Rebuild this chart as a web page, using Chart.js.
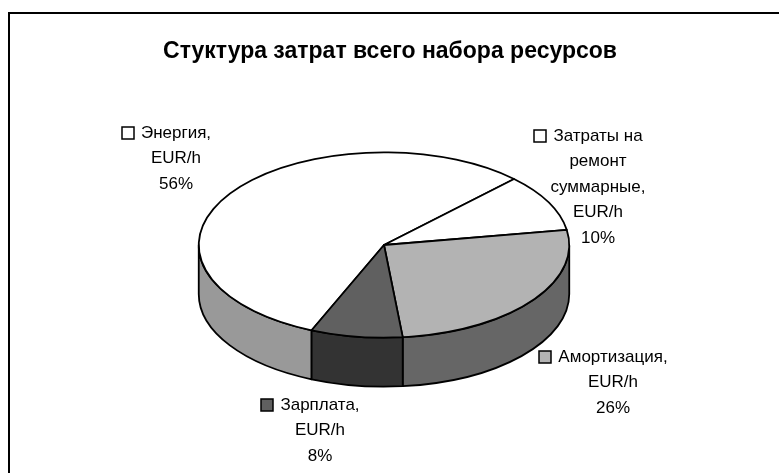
<!DOCTYPE html>
<html lang="ru">
<head>
<meta charset="utf-8">
<title>Стуктура затрат всего набора ресурсов</title>
<script src="https://cdn.jsdelivr.net/npm/chart.js@4.4.1/dist/chart.umd.min.js"></script>
<style>
  html, body { margin: 0; padding: 0; background: #fff; }
  canvas { display: block; }
</style>
</head>
<body>
<canvas id="costChart" width="779" height="473"></canvas>
<script>
const chartTitle = 'Стуктура затрат всего набора ресурсов';
const categories = [
  ['Энергия,', 'EUR/h'],
  ['Затраты на', 'ремонт', 'суммарные,', 'EUR/h'],
  ['Амортизация,', 'EUR/h'],
  ['Зарплата,', 'EUR/h']
];
const shares = [56, 10, 26, 8];

// top face and side wall colours per slice
const topColors = ['#ffffff', '#ffffff', '#b3b3b3', '#606060'];
const sideColors = ['#999999', '#999999', '#666666', '#333333'];
// label block: centre x, y of the first line
const labelAnchors = [[176, 133], [598, 136], [613, 357], [320, 405]];

const TILT = 0.5;    // vertical squash of the pie
const DEPTH = 49;    // thickness of the pie in px
const LINE_H = 25.5;

// parts of an arc that lie on the front half (0..PI in canvas angles)
function frontParts(a1, a2) {
  const TWO_PI = Math.PI * 2;
  let s = a1 % TWO_PI;
  if (s < 0) s += TWO_PI;
  const e = s + (a2 - a1);
  const parts = [];
  [0, TWO_PI].forEach(function (off) {
    const lo = Math.max(s, off), hi = Math.min(e, off + Math.PI);
    if (hi > lo) parts.push([lo, hi]);
  });
  return parts;
}

const pie3d = {
  id: 'pie3d',
  beforeDraw(chart) {
    const ctx = chart.ctx;
    ctx.save();
    ctx.strokeStyle = '#000';
    ctx.lineWidth = 2;
    ctx.beginPath();
    ctx.moveTo(9, chart.height);
    ctx.lineTo(9, 13);
    ctx.lineTo(chart.width, 13);
    ctx.stroke();
    ctx.restore();
  },
  beforeDatasetsDraw(chart) {
    const ctx = chart.ctx;
    const arcs = chart.getDatasetMeta(0).data;
    ctx.save();
    ctx.lineWidth = 1.8;
    ctx.strokeStyle = '#000';
    ctx.lineJoin = 'round';

    // side walls first
    arcs.forEach(function (arc, i) {
      const p = arc.getProps(['x', 'y', 'startAngle', 'endAngle', 'outerRadius']);
      const rx = p.outerRadius, ry = rx * TILT;
      frontParts(p.startAngle, p.endAngle).forEach(function (part) {
        ctx.beginPath();
        ctx.ellipse(p.x, p.y, rx, ry, 0, part[0], part[1]);
        ctx.lineTo(p.x + rx * Math.cos(part[1]), p.y + ry * Math.sin(part[1]) + DEPTH);
        ctx.ellipse(p.x, p.y + DEPTH, rx, ry, 0, part[1], part[0], true);
        ctx.closePath();
        ctx.fillStyle = sideColors[i];
        ctx.fill();
        ctx.stroke();
      });
    });

    // top faces
    arcs.forEach(function (arc, i) {
      const p = arc.getProps(['x', 'y', 'startAngle', 'endAngle', 'outerRadius']);
      const rx = p.outerRadius, ry = rx * TILT;
      ctx.beginPath();
      ctx.moveTo(p.x, p.y);
      ctx.ellipse(p.x, p.y, rx, ry, 0, p.startAngle, p.endAngle);
      ctx.closePath();
      ctx.fillStyle = arc.options.backgroundColor;
      ctx.fill();
      ctx.stroke();
    });
    ctx.restore();
    return false;
  },
  afterDraw(chart) {
    const ctx = chart.ctx;
    const values = chart.data.datasets[0].data;
    const total = values.reduce(function (a, b) { return a + b; }, 0);
    ctx.save();
    ctx.fillStyle = '#000';
    ctx.textAlign = 'center';
    ctx.textBaseline = 'middle';
    ctx.font = 'bold 23px "Liberation Sans", Arial, sans-serif';
    ctx.fillText(chartTitle, 390, 52);

    ctx.font = '17px "Liberation Sans", Arial, sans-serif';
    chart.data.labels.forEach(function (lines, i) {
      const text = lines.concat([Math.round(values[i] / total * 100) + '%']);
      const cx = labelAnchors[i][0], y0 = labelAnchors[i][1];
      ctx.fillStyle = '#000';
      text.forEach(function (t, k) {
        ctx.fillText(t, cx, y0 + k * LINE_H);
      });
      // legend key in front of the first line
      const w = ctx.measureText(lines[0]).width;
      const kx = Math.round(cx - w / 2 - 19);
      ctx.fillStyle = topColors[i];
      ctx.fillRect(kx, y0 - 6, 12, 12);
      ctx.lineWidth = 1.5;
      ctx.strokeStyle = '#000';
      ctx.strokeRect(kx, y0 - 6, 12, 12);
    });
    ctx.restore();
  }
};

new Chart(document.getElementById('costChart'), {
  type: 'pie',
  data: {
    labels: categories,
    datasets: [{
      data: shares,
      backgroundColor: topColors,
      borderColor: '#000',
      borderWidth: 1.5
    }]
  },
  options: {
    responsive: false,
    animation: false,
    rotation: 203,
    layout: { padding: { left: 198, right: 209, top: 59, bottom: 42 } },
    plugins: {
      legend: { display: false },
      title: { display: false },
      tooltip: { enabled: false }
    }
  },
  plugins: [pie3d]
});
</script>
</body>
</html>
